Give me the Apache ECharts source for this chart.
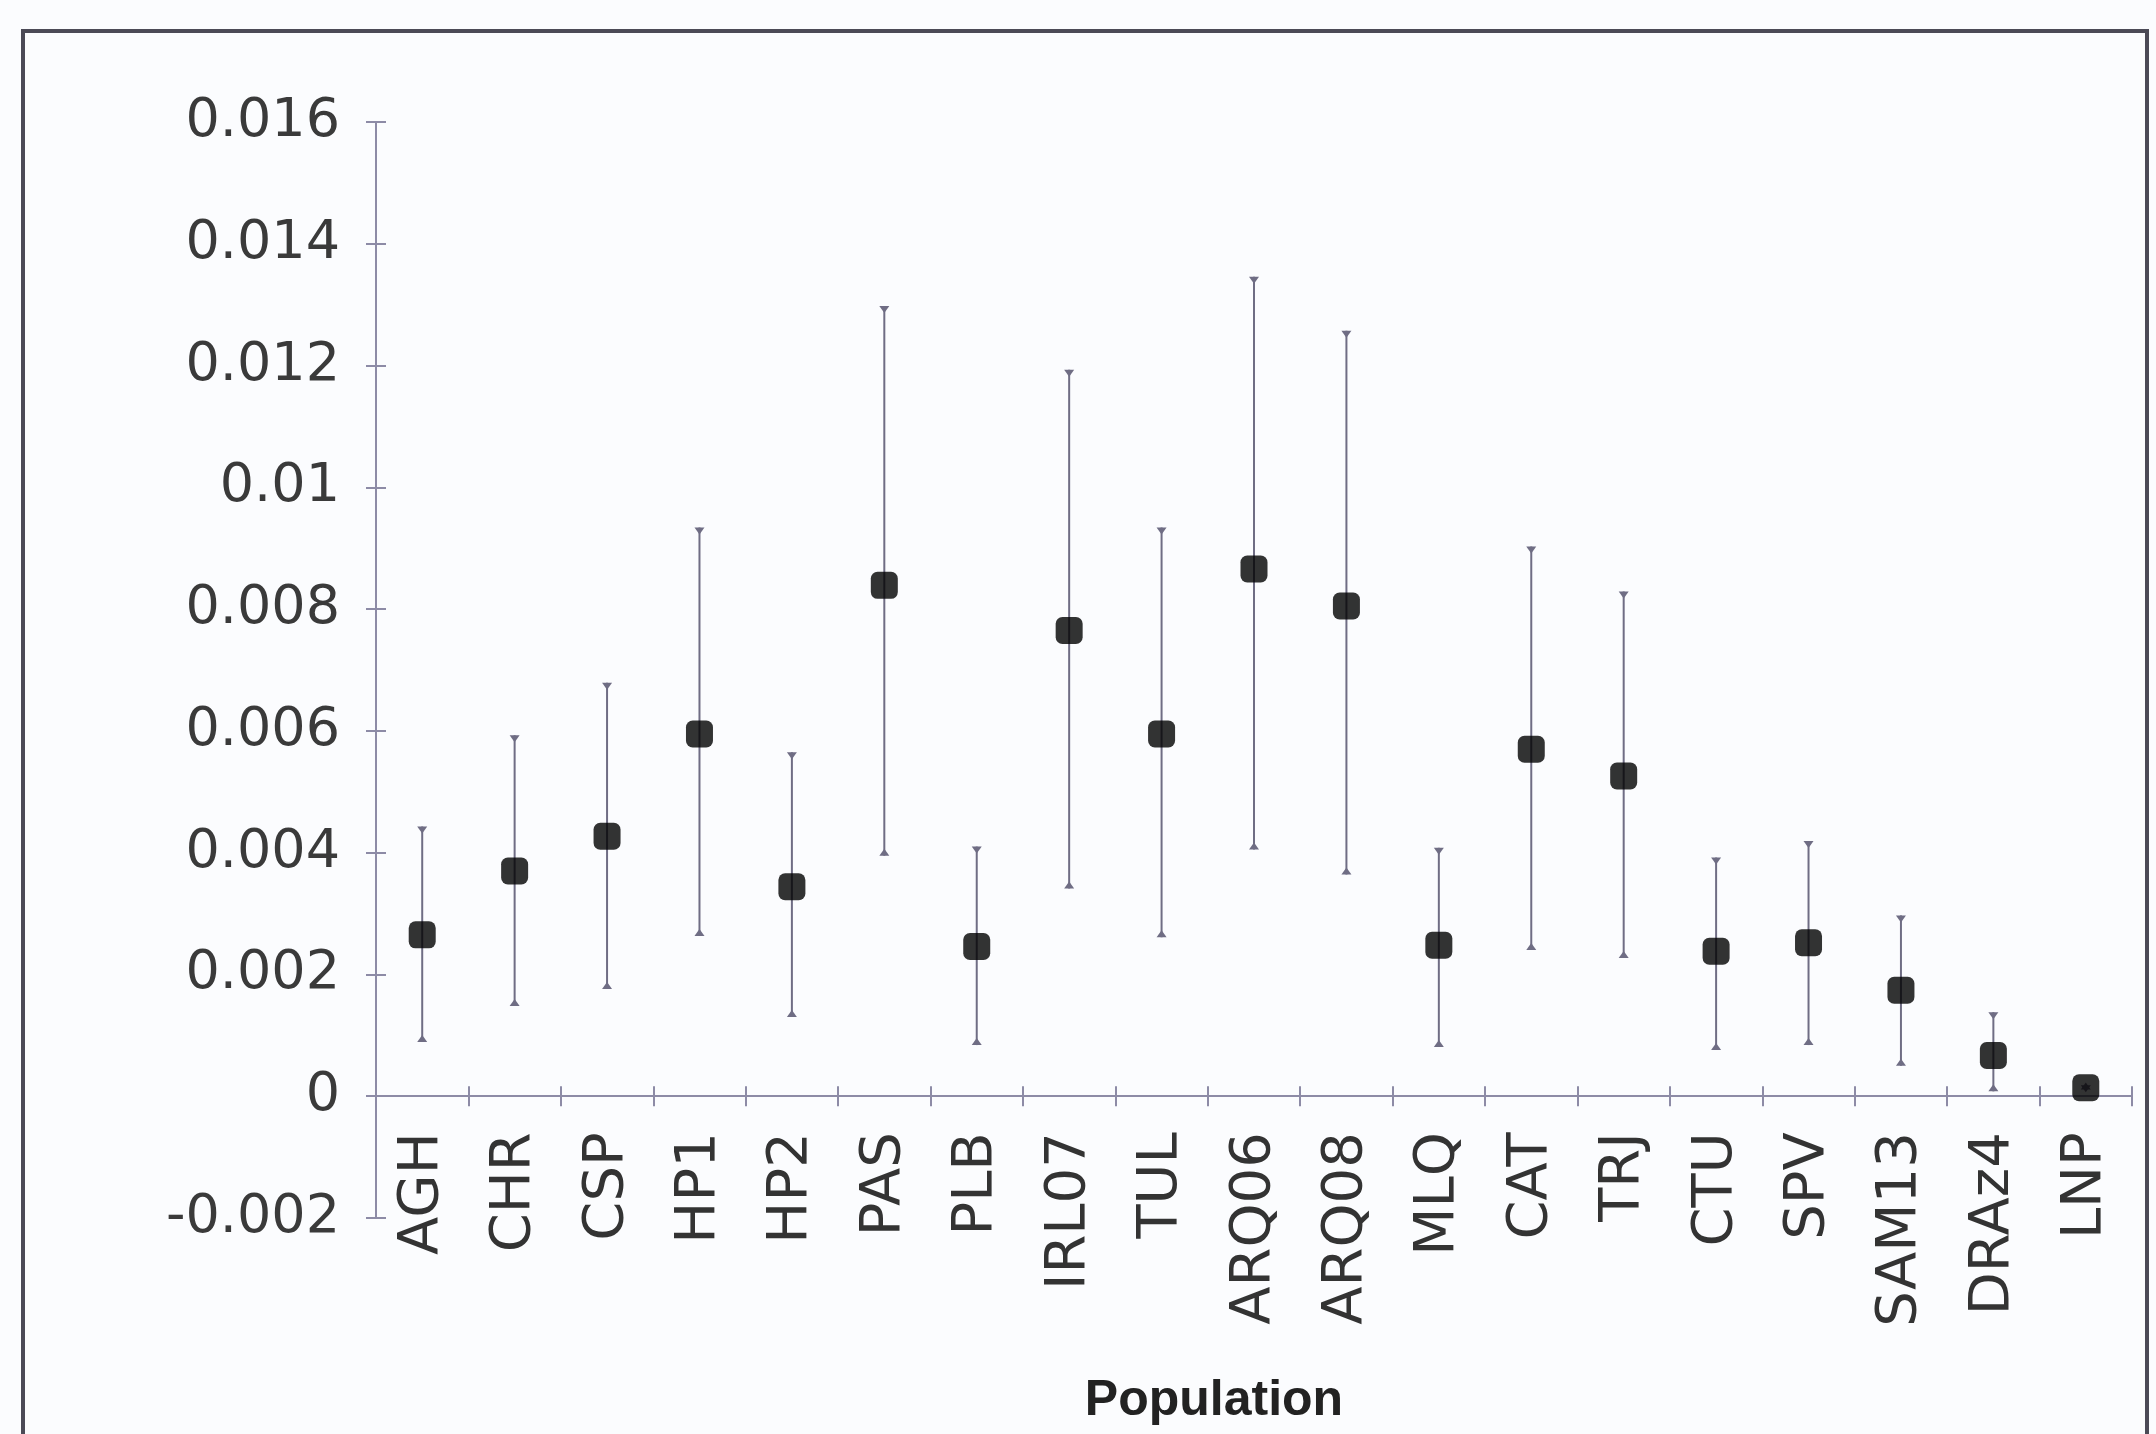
<!DOCTYPE html>
<html>
<head>
<meta charset="utf-8">
<script src="https://cdn.jsdelivr.net/npm/echarts@6/dist/echarts.min.js"></script>
<style>
  html, body { margin: 0; padding: 0; background: #fbfcfe; }
  #chart { width: 2156px; height: 1434px; }
</style>
</head>
<body>
<div id="chart"></div>
<script>
// Populations along the x axis
const populations = ['AGH', 'CHR', 'CSP', 'HP1', 'HP2', 'PAS', 'PLB', 'IRL07', 'TUL', 'ARQ06',
  'ARQ08', 'MLQ', 'CAT', 'TRJ', 'CTU', 'SPV', 'SAM13', 'DRAz4', 'LNP'];

// Point estimate for each population
const meanValues = [0.00265, 0.00370, 0.00427, 0.00595, 0.00344, 0.00839, 0.00246, 0.00765, 0.00595, 0.00866,
  0.00805, 0.00248, 0.00570, 0.00526, 0.00238, 0.00252, 0.00174, 0.00067, 0.00014];

// Upper and lower ends of each interval
const upperValues = [0.00443, 0.00593, 0.00679, 0.00934, 0.00565, 0.01298, 0.00410, 0.01193, 0.00934, 0.01346,
  0.01257, 0.00408, 0.00903, 0.00829, 0.00392, 0.00419, 0.00297, 0.00138, 0.00018];
const lowerValues = [0.00089, 0.00148, 0.00176, 0.00263, 0.00130, 0.00395, 0.00084, 0.00341, 0.00261, 0.00405,
  0.00364, 0.00081, 0.00240, 0.00227, 0.00076, 0.00084, 0.00050, 0.00008, 0.00011];

// Y axis scale and tick labels
const yMin = -0.002;
const yMax = 0.016;
const yStep = 0.002;
const yTickLabels = ['-0.002', '0', '0.002', '0.004', '0.006', '0.008', '0.01', '0.012', '0.014', '0.016'];

const axisColor = '#8d8ba6';
const barColor = '#6f6d84';

// Plot area
const gridTop = 122, gridBottom = 216, gridLeft = 376, gridRight = 24;
const chartHeight = 1434;
const plotHeight = chartHeight - gridTop - gridBottom;
// The category axis sits on the zero line of the value scale
const zeroOffset = -plotHeight * (0 - yMin) / (yMax - yMin);

const chart = echarts.init(document.getElementById('chart'));

const intervalData = populations.map((p, i) => [i, lowerValues[i], upperValues[i]]);

function renderInterval(params, api) {
  const lo = api.coord([api.value(0), api.value(1)]);
  const hi = api.coord([api.value(0), api.value(2)]);
  const cx = hi[0];
  const w = 5, h = 7;
  return {
    type: 'group',
    children: [
      { type: 'line', shape: { x1: cx, y1: lo[1], x2: cx, y2: hi[1] },
        style: { stroke: barColor, lineWidth: 2 } },
      { type: 'polygon', shape: { points: [[cx - w, hi[1]], [cx + w, hi[1]], [cx, hi[1] + h]] },
        style: { fill: barColor } },
      { type: 'polygon', shape: { points: [[cx - w, lo[1]], [cx + w, lo[1]], [cx, lo[1] - h]] },
        style: { fill: barColor } }
    ]
  };
}

const yLabel = v => yTickLabels[Math.round((v - yMin) / yStep)] || '';

chart.setOption({
  backgroundColor: '#fbfcfe',
  animation: false,
  grid: { left: gridLeft, right: gridRight, top: gridTop, bottom: gridBottom, containLabel: false },
  xAxis: [
    {
      type: 'category',
      data: populations,
      position: 'bottom',
      offset: zeroOffset,
      boundaryGap: true,
      axisLine: { show: true, onZero: false, lineStyle: { color: axisColor, width: 2 } },
      axisTick: { show: true, inside: false, length: 10, lineStyle: { color: axisColor, width: 2 } },
      axisLabel: { rotate: 90, margin: 36, fontFamily: 'DejaVu Sans', fontSize: 56, color: '#333' },
      splitLine: { show: false }
    },
    {
      type: 'category',
      data: populations,
      position: 'bottom',
      offset: zeroOffset,
      boundaryGap: true,
      axisLine: { show: false, onZero: false },
      axisTick: { show: true, inside: true, length: 10, lineStyle: { color: axisColor, width: 2 } },
      axisLabel: { show: false },
      splitLine: { show: false }
    }
  ],
  yAxis: [
    {
      type: 'value',
      min: yMin, max: yMax, interval: yStep,
      axisLine: { show: true, onZero: false, lineStyle: { color: axisColor, width: 2 } },
      axisTick: { show: true, inside: false, length: 10, lineStyle: { color: axisColor, width: 2 } },
      axisLabel: { margin: 36, fontFamily: 'DejaVu Sans', fontSize: 54, color: '#3a3a3a', formatter: yLabel },
      splitLine: { show: false }
    },
    {
      type: 'value',
      position: 'left',
      min: yMin, max: yMax, interval: yStep,
      axisLine: { show: false, onZero: false },
      axisTick: { show: true, inside: true, length: 10, lineStyle: { color: axisColor, width: 2 } },
      axisLabel: { show: false },
      splitLine: { show: false }
    }
  ],
  series: [
    {
      type: 'custom',
      name: 'interval',
      xAxisIndex: 0, yAxisIndex: 0,
      renderItem: renderInterval,
      encode: { x: 0, y: [1, 2] },
      data: intervalData,
      z: 2
    },
    {
      type: 'scatter',
      name: 'estimate',
      xAxisIndex: 0, yAxisIndex: 0,
      symbol: 'roundRect',
      symbolSize: 27,
      itemStyle: { color: '#000' },
      data: meanValues,
      z: 3
    }
  ],
  graphic: [
    {
      type: 'rect',
      shape: { x: 23, y: 31, width: 2124, height: 1500 },
      style: { fill: null, stroke: '#4b4a56', lineWidth: 4 },
      silent: true
    },
    {
      type: 'text',
      x: 1214, y: 1401,
      style: {
        text: 'Population',
        fontFamily: 'Liberation Sans', fontWeight: 'bold', fontSize: 50,
        fill: '#222', align: 'center', verticalAlign: 'middle'
      }
    }
  ]
});
</script>
</body>
</html>
